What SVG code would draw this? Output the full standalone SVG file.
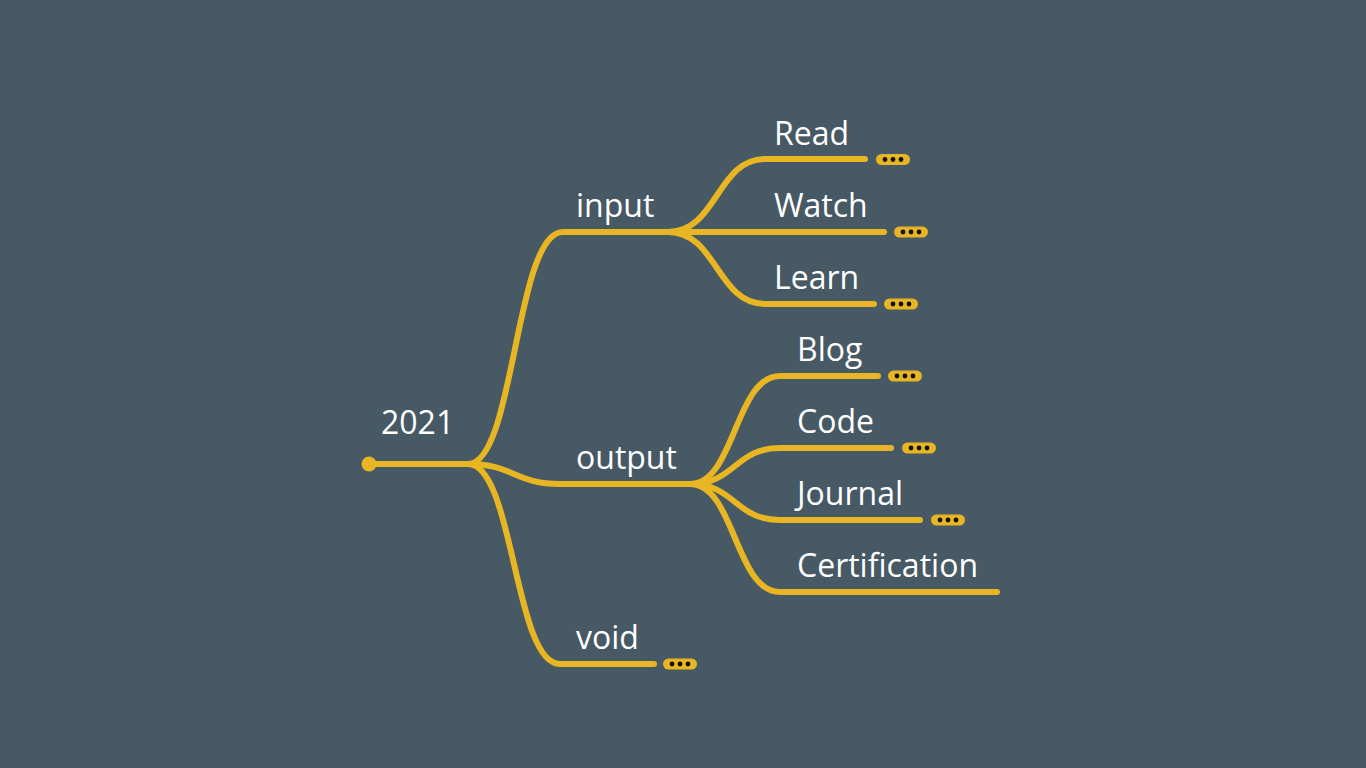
<svg xmlns="http://www.w3.org/2000/svg" width="1366" height="768" viewBox="0 0 1366 768">
<defs>
<style>
.bg{fill:#465964}
.ln{fill:none;stroke:#E8B623;stroke-width:6;stroke-linecap:round}
.t{font-family:"Open Sans","Liberation Sans",sans-serif;font-size:32px;fill:#ffffff}
.pill{fill:#E8B623}
.dot{fill:#111111}
</style>
<g id="more">
<rect x="0" y="-5.5" width="34" height="11" rx="5.5" class="pill"/>
<circle cx="9" cy="0" r="2.4" class="dot"/>
<circle cx="17" cy="0" r="2.4" class="dot"/>
<circle cx="25" cy="0" r="2.4" class="dot"/>
</g>
</defs>
<rect width="1366" height="768" class="bg"/>
<g id="connectors">
<path class="ln" d="M369,464 L468,464"/>
<path class="ln" d="M468,464 C515,464 515,232 563,232 L668,232"/>
<path class="ln" d="M468,464 C514,464 514,484 560,484 L690,484"/>
<path class="ln" d="M468,464 C514,464 514,664 560,664 L654,664"/>
<path class="ln" d="M668,232 C717,232 717,159 765,159 L865,159"/>
<path class="ln" d="M668,232 L884,232"/>
<path class="ln" d="M668,232 C717,232 717,304 765,304 L874,304"/>
<path class="ln" d="M690,484 C735,484 735,376 780,376 L878,376"/>
<path class="ln" d="M690,484 C735,484 735,448 780,448 L891,448"/>
<path class="ln" d="M690,484 C735,484 735,520 780,520 L920,520"/>
<path class="ln" d="M690,484 C735,484 735,592 780,592 L997,592"/>
</g>
<g id="node-2021">
<circle cx="369" cy="464" r="7.5" class="pill"/>
<text x="381" y="434" class="t">2021</text>
</g>
<g id="node-input"><text x="576" y="217" class="t">input</text></g>
<g id="node-output"><text x="576" y="469" class="t">output</text></g>
<g id="node-void"><text x="576" y="649" class="t">void</text><use href="#more" x="663" y="664"/></g>
<g id="node-read"><text x="774" y="145" class="t">Read</text><use href="#more" x="876" y="159.5"/></g>
<g id="node-watch"><text x="774" y="217" class="t">Watch</text><use href="#more" x="894" y="232"/></g>
<g id="node-learn"><text x="774" y="289" class="t">Learn</text><use href="#more" x="884" y="304"/></g>
<g id="node-blog"><text x="797" y="361" class="t">Blog</text><use href="#more" x="888" y="376"/></g>
<g id="node-code"><text x="797" y="433" class="t">Code</text><use href="#more" x="902" y="448"/></g>
<g id="node-journal"><text x="797" y="505" class="t">Journal</text><use href="#more" x="931" y="520"/></g>
<g id="node-certification"><text x="797" y="577" class="t">Certification</text></g>
</svg>
